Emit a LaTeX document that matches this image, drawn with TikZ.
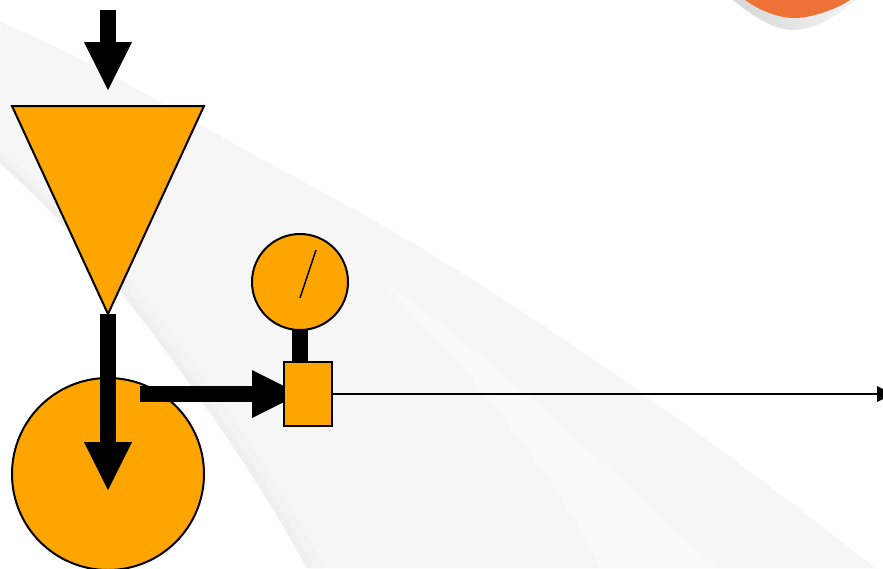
\documentclass[tikz,border=0pt]{standalone}
\usepackage{tikz}
\usetikzlibrary{arrows.meta,shapes.geometric,backgrounds}
\definecolor{tankfill}{HTML}{FFA500}
\definecolor{swoosha}{HTML}{F6F6F6}
\definecolor{swooshb}{HTML}{FAFAFA}
\definecolor{swooshc}{HTML}{F3F3F3}
\definecolor{swooshd}{HTML}{EFEFEF}
\definecolor{badgefill}{HTML}{EE7235}
\begin{document}
\begin{tikzpicture}[x=1pt,y=-1pt,
 part/.style={draw,line width=2pt,fill=tankfill,inner sep=0pt,outer sep=0pt},
 bigflow/.style={line width=16pt,-{Triangle[length=48pt,width=48pt,line width=0pt]}},
 thinflow/.style={line width=2.5pt,-{Triangle[length=16pt,width=16pt,line width=0pt]}}]
\useasboundingbox (0,0) rectangle (883,568);
\begin{pgfonlayer}{background}
\fill[white] (0,0) rectangle (883,568);
\fill[swoosha] (0,22) .. controls (100,63) and (200,127) .. (300,180)
 .. controls (500,285) and (700,430) .. (875,568) -- (307,568)
 .. controls (270,500) and (225,433) .. (187,380)
 .. controls (130,300) and (70,225) .. (0,163) -- cycle;
\fill[swooshb] (380,280) .. controls (480,345) and (610,470) .. (717,568)
 -- (600,568) .. controls (560,480) and (470,370) .. (380,280) -- cycle;
\fill[swooshc] (0,163) .. controls (70,225) and (130,300) .. (187,380)
 .. controls (225,433) and (270,500) .. (307,568) -- (325,568)
 .. controls (288,500) and (243,433) .. (200,372)
 .. controls (140,290) and (80,215) .. (0,150) -- cycle;
\fill[swooshd] (0,163) .. controls (70,225) and (130,300) .. (187,380)
 .. controls (225,433) and (270,500) .. (307,568) -- (314,568)
 .. controls (277,500) and (232,433) .. (192,377)
 .. controls (135,296) and (75,221) .. (0,158) -- cycle;
\shade[left color=black!16,right color=black!4] (733,0) .. controls (755,18) and (775,30) .. (793,30)
 .. controls (815,30) and (838,15) .. (857,0) -- cycle;
\fill[badgefill] (745,0) .. controls (762,12) and (780,18) .. (795,18)
 .. controls (810,18) and (835,10) .. (850,0) -- cycle;
\node[part,circle,minimum size=192pt] (tank) at (108,474) {};
\node[part,isosceles triangle,shape border rotate=-90,isosceles triangle stretches,
 minimum width=192pt,minimum height=208pt,anchor=apex] (hopper) at (108,314) {};
\end{pgfonlayer}
\coordinate (feedin) at (108,10);
\coordinate (hoppertip) at (108,90);
\coordinate (tanktip) at (108,490);
\coordinate (pumpout) at (140,394);
\coordinate (lineend) at (893,394);
\node[part,minimum width=48pt,minimum height=64pt] (valve) at (308,394) {};
\node[part,circle,minimum size=96pt] (gauge) at (300,282) {};
\coordinate (needlea) at (300,298);
\coordinate (needleb) at (316,250);
\begin{pgfonlayer}{background}
\draw[bigflow] (feedin)--(hoppertip);
\draw[bigflow] (hopper.apex)--(tanktip);
\draw[bigflow,shorten >=8pt] (pumpout)--(valve.center);
\draw[line width=16pt] (gauge.south)--(gauge.south |- valve.north);
\end{pgfonlayer}
\draw[thinflow] (valve.east)--(lineend);
\draw[line width=1.5pt] (needlea)--(needleb);
\end{tikzpicture}
\end{document}
